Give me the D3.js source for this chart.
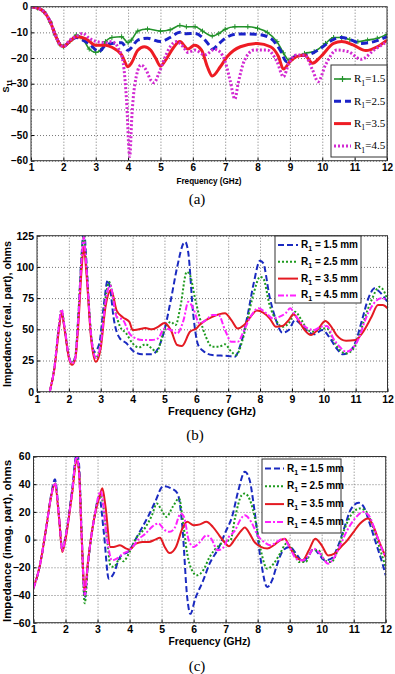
<!DOCTYPE html>
<html>
<head>
<meta charset="utf-8">
<script src="https://cdn.jsdelivr.net/npm/d3@7/dist/d3.min.js"></script>
<style>
  body { margin: 0; background: #fff; }
  .tick text { font-family: "Liberation Sans", Arial, sans-serif; font-weight: bold; fill: #000; }
</style>
</head>
<body>
<div id="chart"></div>
<script>
// Datos comunes
const freqTicks = d3.range(1, 13);
const legendA = ["1.5", "2.5", "3.5", "4.5"];
const legendBC = ["1.5 mm", "2.5 mm", "3.5 mm", "4.5 mm"];

// (a) S11 (dB) para R1 = 1.5, 2.5, 3.5, 4.5
const s11_r15 = [[1,0],[1.2,-0.5],[1.4,-2],[1.6,-6],[1.75,-11],[1.9,-14.8],[2,-15.5],[2.2,-13.5],[2.4,-11],[2.6,-12.5],[2.8,-16.5],[3,-17.8],[3.15,-17],[3.3,-13.6],[3.5,-12],[3.8,-11.7],[4,-14],[4.1,-13],[4.3,-9.5],[4.6,-8.7],[5,-9.5],[5.3,-9],[5.6,-7.3],[5.8,-7.8],[6.07,-7.8],[6.3,-9.5],[6.6,-11.4],[6.8,-10.5],[7,-8.8],[7.3,-7.8],[7.7,-7.8],[8,-8.4],[8.3,-10],[8.6,-13.6],[8.8,-18],[8.97,-20.8],[9.1,-20],[9.45,-18.2],[9.75,-17.5],[10.1,-14.3],[10.35,-12],[10.6,-12],[10.85,-12.8],[11.1,-13.6],[11.4,-13],[11.7,-12.3],[12,-10.8]];
const s11_r25 = [[1,0],[1.2,-0.5],[1.4,-2],[1.6,-6],[1.75,-11],[1.9,-14.8],[2,-15.5],[2.2,-13.5],[2.4,-12],[2.6,-13],[2.8,-14.5],[3.1,-17.5],[3.3,-15],[3.5,-14.3],[3.8,-14],[4,-17],[4.1,-16],[4.3,-13],[4.6,-12.3],[5,-13.6],[5.3,-12],[5.6,-10],[5.8,-10.5],[6.07,-10.4],[6.3,-12],[6.5,-14.9],[6.6,-16.6],[6.8,-14.5],[7,-12.3],[7.4,-10.6],[8,-10.8],[8.4,-12.3],[8.7,-16.9],[8.9,-21.4],[9.2,-19.2],[9.55,-18.8],[9.95,-16.2],[10.35,-12.7],[10.6,-12],[10.9,-13],[11.2,-14.3],[11.6,-13.6],[12,-11.7]];
const s11_r35 = [[1,0],[1.2,-0.5],[1.4,-2],[1.6,-6],[1.75,-11],[1.9,-14.8],[2,-15.5],[2.2,-13.5],[2.4,-11.7],[2.7,-12.5],[3,-15],[3.3,-15],[3.5,-15.8],[3.8,-18.8],[4,-23.4],[4.1,-22],[4.3,-17],[4.5,-15.6],[4.7,-17],[4.85,-20],[5,-23.1],[5.2,-20],[5.4,-16],[5.6,-13.6],[5.85,-16.5],[6.05,-15],[6.27,-16.9],[6.45,-23.4],[6.6,-27],[6.85,-23.4],[7.06,-19.5],[7.47,-15.6],[8,-14.3],[8.4,-15.6],[8.65,-19.5],[8.8,-24.3],[9,-21.4],[9.2,-19.5],[9.45,-18.8],[9.7,-22],[9.95,-19.5],[10.35,-14.3],[10.6,-13.6],[10.95,-14.9],[11.35,-17.1],[11.7,-15.6],[12,-13]];
const s11_r45 = [[1,0],[1.2,-0.5],[1.4,-2],[1.6,-6],[1.75,-11],[1.9,-14.8],[2,-15.5],[2.2,-13],[2.4,-11.5],[2.6,-10.4],[2.8,-12.3],[3,-13.5],[3.3,-14],[3.5,-13.6],[3.7,-16.2],[3.85,-22],[3.95,-36],[4.05,-58.4],[4.12,-42],[4.2,-31],[4.4,-22.7],[4.55,-24.5],[4.7,-28.6],[4.8,-29.6],[4.95,-26],[5.1,-21],[5.3,-15.6],[5.5,-13.6],[5.7,-15.6],[5.85,-17.8],[6.07,-16.9],[6.37,-18.8],[6.68,-16.6],[6.83,-17.5],[7,-21.4],[7.15,-28.6],[7.3,-36],[7.4,-29.9],[7.6,-20.8],[7.9,-16.9],[8.3,-16.9],[8.6,-21.4],[8.8,-27.3],[8.97,-22],[9.2,-18.8],[9.45,-18.8],[9.7,-24.7],[9.87,-29.2],[10.1,-22.7],[10.45,-16.9],[10.8,-17.5],[11.2,-20.5],[11.6,-16.9],[12,-13.6]];

// (b) Impedancia, parte real (ohms)
const re_r15 = [[1.4,0],[1.55,20],[1.68,50],[1.77,64],[1.87,50],[2,28],[2.1,23],[2.2,28],[2.3,62],[2.4,110],[2.47,130],[2.55,105],[2.65,60],[2.8,32],[2.95,38],[3.1,70],[3.22,89.5],[3.3,82],[3.4,60],[3.6,42.7],[3.8,39],[4,33],[4.3,30],[4.6,30],[4.8,34.7],[5,49.4],[5.2,73.5],[5.4,100],[5.6,119],[5.65,120],[5.75,111],[5.9,62.8],[6.05,38],[6.2,33],[6.5,29.4],[7,28.6],[7.2,28],[7.4,38.7],[7.6,60],[7.8,86.8],[8,105],[8.1,103],[8.3,76],[8.5,57.4],[8.7,47.3],[8.9,49.4],[9.1,57.4],[9.3,53.4],[9.5,48],[9.7,46],[9.95,49.4],[10.2,42.7],[10.4,34.7],[10.6,30],[10.8,32],[11,40],[11.2,57.4],[11.4,74.8],[11.6,82.8],[11.75,80],[12,72]];
const re_r25 = [[1.4,0],[1.55,20],[1.68,51],[1.77,66],[1.87,51],[2,28],[2.1,23],[2.2,28],[2.3,62],[2.4,108],[2.47,125],[2.55,100],[2.7,45],[2.85,27],[3,40],[3.15,75],[3.27,88],[3.45,65],[3.6,52.6],[3.8,46.7],[4,38.7],[4.2,35.5],[4.4,38],[4.6,34.7],[4.75,32],[5,49.4],[5.2,56],[5.35,53.4],[5.5,68],[5.7,96],[5.8,93.5],[5.96,74.8],[6.1,60],[6.3,44],[6.5,36],[6.7,36],[6.9,38],[7.1,32],[7.25,29.4],[7.45,41.4],[7.6,57.4],[7.8,78.8],[8,92],[8.1,90.8],[8.3,69.4],[8.5,57.4],[8.7,52],[8.9,54.8],[9.1,64],[9.3,57.4],[9.5,49.4],[9.7,48],[9.9,50.7],[10.1,50.7],[10.3,41.4],[10.5,33.4],[10.7,30.7],[10.9,33.4],[11.1,44],[11.3,60],[11.5,73.5],[11.75,84],[11.9,80],[12,73.5]];
const re_r35 = [[1.4,0],[1.55,19],[1.68,48],[1.77,63],[1.87,49],[2,27],[2.1,21.5],[2.2,26],[2.3,55],[2.4,98],[2.47,116],[2.55,95],[2.7,42],[2.85,24],[3,35],[3.15,68],[3.33,81.5],[3.5,65],[3.7,59.5],[3.9,56],[4,49.4],[4.2,50],[4.4,51],[4.6,50],[4.8,52],[5,55],[5.2,49.4],[5.4,37.4],[5.55,36.6],[5.8,48],[6,50.7],[6.1,53.4],[6.3,57.4],[6.5,60],[6.9,62.8],[7.1,57.4],[7.3,50.7],[7.5,53.4],[7.7,60],[7.9,65],[8.1,63.3],[8.3,58.8],[8.5,52],[8.7,52.6],[8.9,57.4],[9.05,62],[9.2,57.4],[9.4,49.4],[9.6,45.4],[9.8,49.4],[10.05,56.6],[10.2,53.4],[10.4,45.4],[10.7,40.9],[11,41.4],[11.2,46.7],[11.5,60],[11.7,69.4],[11.85,69.4],[12,66.8]];
const re_r45 = [[1.4,0],[1.55,20],[1.68,51],[1.77,66],[1.87,51],[2,28],[2.1,22.5],[2.2,27],[2.3,60],[2.4,106],[2.47,124],[2.55,100],[2.7,45],[2.85,27],[3,38],[3.15,72],[3.3,85],[3.5,60],[3.7,57.4],[3.9,46.7],[4.1,42.7],[4.3,41.4],[4.6,41.4],[4.8,42.7],[5,50.7],[5.2,49.4],[5.4,46.7],[5.6,57.4],[5.75,72],[5.9,66.8],[6.1,54.8],[6.3,57.4],[6.5,61.4],[6.7,61.4],[6.9,49.4],[7.1,40],[7.3,40],[7.5,49.4],[7.7,60],[7.95,66.8],[8.2,62.8],[8.4,58.8],[8.6,60],[8.8,62.8],[8.95,66.8],[9.1,61.4],[9.3,54.8],[9.5,50.7],[9.7,49.4],[9.9,52],[10.1,52.6],[10.3,42.7],[10.5,36],[10.7,32],[10.9,34.7],[11.1,42.7],[11.3,57.4],[11.5,68],[11.8,74.8],[12,73.5]];

// (c) Impedancia, parte imaginaria (ohms)
const im_r15 = [[1,-35],[1.2,-18.6],[1.4,9],[1.55,32],[1.67,43.5],[1.8,16],[1.9,-7],[2,2],[2.2,35],[2.35,62],[2.42,55],[2.5,8],[2.6,-42],[2.7,-18],[2.9,16],[3.05,31],[3.2,4.3],[3.35,-28.3],[3.5,-24.6],[3.7,-12.6],[4,-7.7],[4.2,0.7],[4.4,9],[4.6,17.6],[4.8,27.3],[5.05,38.6],[5.3,37],[5.5,33.3],[5.65,9.2],[5.8,-41.5],[5.9,-53.6],[6.05,-42.8],[6.3,-29.5],[6.5,-17.4],[6.8,-5.3],[7,5.6],[7.2,16.4],[7.4,35.7],[7.6,49],[7.75,43],[7.9,21.3],[8.1,-15],[8.3,-34.3],[8.45,-29.5],[8.6,-18.6],[8.8,-7.7],[9,-5.3],[9.2,-10.1],[9.4,-15.7],[9.6,-11.4],[9.75,-6.5],[9.9,-10.1],[10.1,-15],[10.3,-13.8],[10.5,-5.3],[10.7,8],[10.9,21.3],[11.15,26.6],[11.3,24.2],[11.5,11.6],[11.7,-2.9],[11.9,-17.4],[12,-25.8]];
const im_r25 = [[1,-35],[1.2,-18.6],[1.4,9],[1.55,31],[1.67,41],[1.8,16],[1.9,-8],[2,2],[2.2,33],[2.35,58],[2.42,50],[2.5,4],[2.6,-46],[2.7,-18],[2.9,16],[3.1,32],[3.3,0],[3.4,-18.6],[3.5,-19.8],[3.7,-13.8],[3.8,-15.7],[4,-9],[4.2,0.7],[4.5,9],[4.7,17.6],[4.85,26],[5,21.3],[5.15,16.4],[5.35,23.7],[5.55,29.7],[5.65,16.4],[5.8,-10],[5.95,-22.2],[6.1,-25.8],[6.3,-22.2],[6.5,-12.6],[6.8,-4.1],[7,-1],[7.15,-0.5],[7.3,16.4],[7.5,32],[7.6,33.3],[7.8,26],[7.95,11.6],[8.1,-7.7],[8.3,-21],[8.5,-17.4],[8.7,-10.1],[8.9,-2.9],[9.1,-7.7],[9.3,-16.2],[9.5,-16.2],[9.7,-7.7],[9.9,-7.7],[10.1,-15],[10.3,-16.2],[10.5,-7.7],[10.7,6.8],[10.95,18.8],[11.2,22.5],[11.4,20],[11.6,9.2],[11.8,-5.3],[12,-19.8]];
const im_r35 = [[1,-35],[1.2,-18.6],[1.4,9],[1.55,31],[1.67,40],[1.8,15],[1.9,-9],[2,0],[2.2,32],[2.35,57],[2.42,50],[2.5,4],[2.6,-37],[2.7,-16],[2.9,16],[3.05,30],[3.15,37],[3.25,23.7],[3.4,-5.3],[3.5,-5.3],[3.7,-4.1],[3.9,-6.5],[4,-7.2],[4.2,-2.9],[4.4,-1.7],[4.6,-1.7],[4.8,0],[4.95,1.4],[5.1,-5.3],[5.25,-9.7],[5.45,-5.3],[5.65,8],[5.8,12.8],[6,10.4],[6.2,11],[6.4,12.8],[6.6,9.2],[6.8,3.1],[7,-2.9],[7.1,-4.8],[7.3,0.7],[7.5,6.8],[7.6,8.7],[7.75,4.3],[7.9,-1.7],[8.1,-5.3],[8.3,-6.5],[8.5,-4.1],[8.7,-0.5],[8.85,0.7],[9,-5.3],[9.2,-12.6],[9.4,-15],[9.6,-7.7],[9.8,0.7],[10,-4.1],[10.2,-11.4],[10.4,-10.1],[10.6,-5.3],[10.8,-0.5],[11,5.6],[11.2,11.6],[11.45,15.2],[11.6,10.4],[11.8,-1.7],[12,-12.6]];
const im_r45 = [[1,-35],[1.2,-18.6],[1.4,9],[1.55,31],[1.67,41],[1.8,16],[1.9,-8],[2,2],[2.2,33],[2.35,60],[2.42,50],[2.5,5],[2.6,-40],[2.7,-17],[2.9,16],[3.1,35],[3.3,0],[3.45,-15],[3.6,-13.8],[3.8,-10.1],[4,-7.7],[4.3,0.7],[4.5,4.3],[4.7,9.2],[4.9,11.6],[5.1,6.8],[5.25,5.6],[5.4,8],[5.6,18.8],[5.7,16.4],[5.85,-0.5],[6,-5.3],[6.2,-1.7],[6.4,3.1],[6.55,0.7],[6.75,-7.7],[6.9,-6.5],[7.1,1.9],[7.3,6.8],[7.45,14],[7.6,17.6],[7.8,12.8],[8,3.1],[8.2,-1.7],[8.4,-4.1],[8.6,-1.7],[8.8,0.7],[9,-5.3],[9.2,-13.8],[9.4,-15],[9.6,-11.4],[9.75,-6.5],[9.95,-10.1],[10.2,-17.4],[10.4,-12.6],[10.6,-2.9],[10.8,6.8],[11,14],[11.3,20],[11.5,16.4],[11.7,4.3],[11.9,-7.7],[12,-12.6]];

// Estilos de línea
const stylesA = [
  { color: "#22922a", width: 1.6, dash: null, plus: true },
  { color: "#1a22c8", width: 3, dash: "7,4" },
  { color: "#ee1c24", width: 3, dash: null },
  { color: "#d22ad2", width: 3, dash: "2,2" }
];
const stylesBC = [
  { color: "#1a2ac0", width: 2, dash: "6,3" },
  { color: "#1e9a1e", width: 2, dash: "2,2" },
  { color: "#e41a22", width: 2, dash: null },
  { color: "#ff22ff", width: 2, dash: "6,2,2,2" }
];

const svg = d3.select("#chart").append("svg")
  .attr("width", 395).attr("height", 674)
  .style("background", "#fff");

const sans = "'Liberation Sans', Arial, sans-serif";
const serif = "'Liberation Serif', 'Times New Roman', serif";

function panel(cfg) {
  const x = d3.scaleLinear().domain([1, 12]).range(cfg.xr);
  const y = d3.scaleLinear().domain(cfg.yd).range(cfg.yr);
  const [x0, x1] = cfg.xr;
  const [yb, yt] = cfg.yr;
  const g = svg.append("g");

  g.append("clipPath").attr("id", cfg.id)
    .append("rect").attr("x", x0).attr("y", yt).attr("width", x1 - x0).attr("height", yb - yt);

  // Rejilla
  g.append("g").attr("transform", `translate(0,${yb})`)
    .call(d3.axisBottom(x).tickValues(freqTicks).tickSize(-(yb - yt)).tickFormat(""))
    .call(a => a.select(".domain").remove())
    .selectAll("line").attr("stroke", "#777").attr("stroke-dasharray", "1,2");
  g.append("g").attr("transform", `translate(${x0},0)`)
    .call(d3.axisLeft(y).tickValues(cfg.yticks).tickSize(-(x1 - x0)).tickFormat(""))
    .call(a => a.select(".domain").remove())
    .selectAll("line").attr("stroke", "#777").attr("stroke-dasharray", "1,2");

  // Etiquetas de ejes
  const xa = g.append("g").attr("transform", `translate(0,${yb})`)
    .call(d3.axisBottom(x).tickValues(freqTicks).tickSize(-3).tickPadding(cfg.xpad));
  xa.select(".domain").remove();
  xa.selectAll("text").style("font-size", cfg.fs + "px");
  const ya = g.append("g").attr("transform", `translate(${x0},0)`)
    .call(d3.axisLeft(y).tickValues(cfg.yticks).tickSize(-3).tickPadding(3));
  ya.select(".domain").remove();
  ya.selectAll("text").style("font-size", cfg.fs + "px");

  // Curvas
  const line = d3.line().x(d => x(d[0])).y(d => y(d[1])).curve(d3.curveMonotoneX);
  const plot = g.append("g").attr("clip-path", `url(#${cfg.id})`);
  cfg.series.forEach((s, i) => {
    const st = cfg.styles[i];
    plot.append("path").datum(s)
      .attr("fill", "none").attr("stroke", st.color).attr("stroke-width", st.width)
      .attr("stroke-dasharray", st.dash).attr("stroke-linejoin", "round")
      .attr("d", line);
    if (st.plus) {
      plot.selectAll(null).data(s).enter().append("path")
        .attr("d", d => `M${x(d[0]) - 2.5},${y(d[1])}h5M${x(d[0])},${y(d[1]) - 2.5}v5`)
        .attr("stroke", st.color).attr("stroke-width", 1);
    }
  });

  // Marco
  g.append("rect").attr("x", x0).attr("y", yt).attr("width", x1 - x0).attr("height", yb - yt)
    .attr("fill", "none").attr("stroke", "#333").attr("stroke-width", 1);

  // Títulos
  g.append("text").attr("x", cfg.xlab[0]).attr("y", cfg.xlab[1])
    .attr("text-anchor", "middle").attr("font-family", sans).attr("font-weight", "bold")
    .attr("font-size", cfg.xlab[2]).attr("textLength", cfg.xlab[3]).attr("lengthAdjust", "spacingAndGlyphs")
    .text("Frequency (GHz)");
  const yl = g.append("text")
    .attr("transform", `translate(${cfg.ylab[0]},${cfg.ylab[1]}) rotate(-90)`)
    .attr("text-anchor", "middle").attr("font-family", sans).attr("font-weight", "bold")
    .attr("font-size", cfg.ylab[2]);
  if (cfg.ylabText === "S11") {
    yl.append("tspan").text("S");
    yl.append("tspan").attr("font-size", cfg.ylab[2] * 0.75).attr("dy", 3).text("11");
  } else {
    yl.attr("textLength", cfg.ylab[3]).attr("lengthAdjust", "spacingAndGlyphs").text(cfg.ylabText);
  }
  g.append("text").attr("x", cfg.cap[0]).attr("y", cfg.cap[1])
    .attr("text-anchor", "middle").attr("font-family", serif).attr("font-size", 15)
    .text(cfg.capText);

  // Leyenda
  const L = cfg.legend;
  const lg = g.append("g");
  lg.append("rect").attr("x", L.x).attr("y", L.y).attr("width", L.w).attr("height", L.h)
    .attr("fill", "#fff").attr("stroke", "#333").attr("stroke-width", 1);
  cfg.labels.forEach((lab, i) => {
    const st = cfg.styles[i];
    const yy = L.y0 + i * L.dy;
    lg.append("line").attr("x1", L.x + 3).attr("x2", L.x + 3 + L.len).attr("y1", yy).attr("y2", yy)
      .attr("stroke", st.color).attr("stroke-width", st.width).attr("stroke-dasharray", st.dash);
    if (st.plus) {
      const cx = L.x + 3 + L.len / 2;
      lg.append("path").attr("d", `M${cx - 3},${yy}h6M${cx},${yy - 3}v6`)
        .attr("stroke", st.color).attr("stroke-width", 1.2);
    }
    const t = lg.append("text").attr("x", L.x + 6 + L.len).attr("y", yy + L.fs * 0.3)
      .attr("font-family", L.font).attr("font-weight", L.bold ? "bold" : "normal")
      .attr("font-size", L.fs);
    t.append("tspan").text("R");
    t.append("tspan").attr("font-size", L.fs * 0.7).attr("dy", L.fs * 0.3).text("1");
    t.append("tspan").attr("dy", -L.fs * 0.3).text(L.sep + lab);
  });
}

panel({
  id: "clipA", xr: [31, 387], yd: [-60, 0], yr: [160.7, 6.7],
  yticks: d3.range(-60, 1, 10), fs: 10, xpad: 3.5,
  series: [s11_r15, s11_r25, s11_r35, s11_r45], styles: stylesA, labels: legendA,
  xlab: [209, 184, 8.5, 65], ylab: [9, 86, 9], ylabText: "S11",
  cap: [197, 204], capText: "(a)",
  legend: { x: 331, y: 65, w: 56, h: 92, y0: 79, dy: 22.3, len: 17, fs: 11, font: serif, bold: false, sep: "=" }
});

panel({
  id: "clipB", xr: [37, 387.5], yd: [0, 125], yr: [391.7, 235.7],
  yticks: d3.range(0, 126, 25), fs: 10.5, xpad: 4,
  series: [re_r15, re_r25, re_r35, re_r45], styles: stylesBC, labels: legendBC,
  xlab: [212, 415, 10.5, 88], ylab: [11, 314, 11, 146], ylabText: "Impedance (real. part), ohms",
  cap: [195, 440], capText: "(b)",
  legend: { x: 275, y: 236, w: 86, h: 67, y0: 245, dy: 16.8, len: 20, fs: 10, font: sans, bold: true, sep: " = " }
});

panel({
  id: "clipC", xr: [33.5, 385.7], yd: [-60, 60], yr: [622.7, 456.5],
  yticks: d3.range(-60, 61, 20), fs: 10.5, xpad: 3,
  series: [im_r15, im_r25, im_r35, im_r45], styles: stylesBC, labels: legendBC,
  xlab: [209.5, 645, 10, 82], ylab: [11, 541, 11, 162], ylabText: "Impedance (imag. part), ohms",
  cap: [197, 671], capText: "(c)",
  legend: { x: 262, y: 459, w: 79, h: 74, y0: 468.5, dy: 17.8, len: 19, fs: 10, font: sans, bold: true, sep: " = " }
});
</script>
</body>
</html>
